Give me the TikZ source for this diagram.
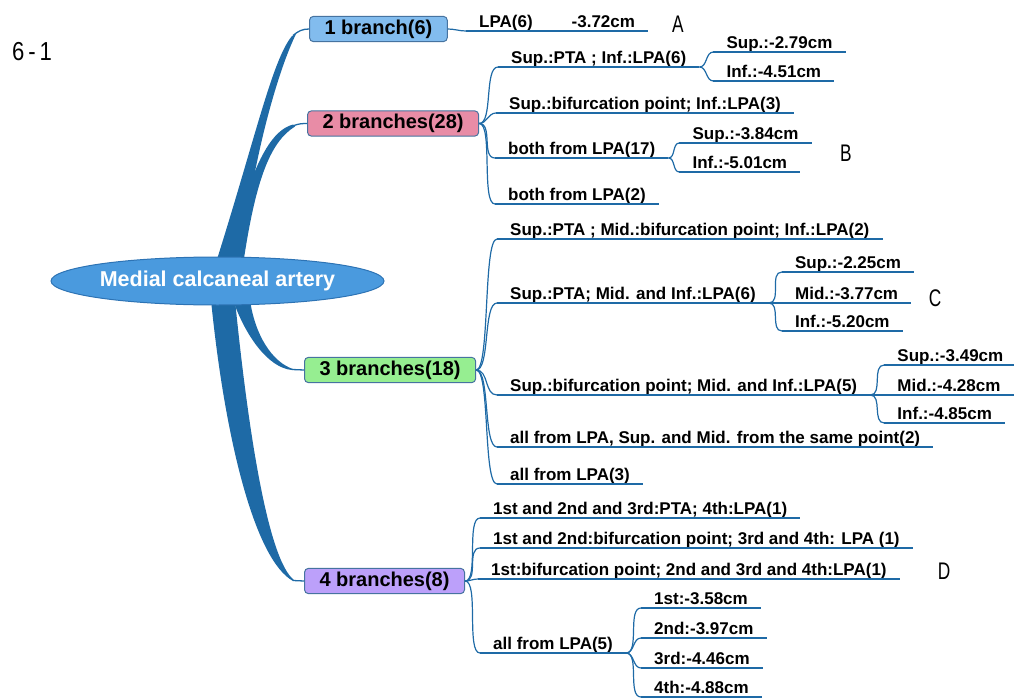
\documentclass[tikz,border=0pt]{standalone}
\usepackage{fontspec}
\setmainfont{Liberation Sans}
\newfontfamily\markfont[FakeStretch=0.72]{Liberation Sans}
\newfontfamily\figfont[FakeStretch=0.85]{Liberation Sans}
\usetikzlibrary{positioning,shapes.geometric}

\definecolor{linkblue}{RGB}{30,106,166}
\definecolor{hubfill}{RGB}{74,154,222}
\definecolor{hubline}{RGB}{45,115,180}
\definecolor{onefill}{RGB}{130,188,238}
\definecolor{twofill}{RGB}{232,140,166}
\definecolor{threefill}{RGB}{150,238,145}
\definecolor{fourfill}{RGB}{188,160,250}
\definecolor{boxline}{RGB}{70,115,160}

\tikzset{
	hub/.style={ellipse, fill=hubfill, draw=hubline, line width=1pt, minimum width=285pt, minimum height=48pt, inner sep=0pt, text=white, font=\fontsize{21.5}{24}\selectfont\bfseries},
	branchbox/.style={rectangle, rounded corners=4pt, draw=boxline, line width=1pt, minimum height=24pt, inner xsep=15pt, anchor=west, font=\fontsize{20}{22}\selectfont\bfseries},
	leaf/.style={anchor=south west, inner xsep=13pt, inner ysep=3pt, text depth=0pt, font=\fontsize{17}{19}\selectfont\bfseries,
		append after command={(\tikzlastnode.south west) edge[draw=linkblue, line width=1.4pt] (\tikzlastnode.south east)}},
	twig/.style={draw=linkblue, line width=1.2pt, out=0, in=180, max distance=14pt},
	trunk/.style={fill=linkblue},
	stem/.style={draw=linkblue, line width=1.3pt},
	letterlbl/.style={inner sep=0pt, font={\markfont\fontsize{24}{26}\selectfont}}
}

\begin{document}
\begin{tikzpicture}[x=1pt, y=-1pt]
	\useasboundingbox (0,0) rectangle (1014,698);

	% first level
	\node [branchbox, fill=onefill]   (n1) at (309,29)    {1 branch(6)};
	\node [branchbox, fill=twofill]   (n2) at (307,123.5) {2 branches(28)};
	\node [branchbox, fill=threefill] (n3) at (304,370)   {3 branches(18)};
	\node [branchbox, fill=fourfill]  (n4) at (304,581)   {4 branches(8)};

	% tapered trunks
	\fill [trunk] (213,272) .. controls (255,140) and (272,60) .. (292,36)
		-- (296,34) .. controls (276,75) and (250,170) .. (240,272) -- cycle;
	\fill [trunk] (246,195) .. controls (258,160) and (272,130) .. (293,124.5)
		-- (295,126.5) .. controls (270,142) and (255,180) .. (242,272) -- (236,272) -- cycle;
	\fill [trunk] (233,300) .. controls (245,335) and (268,368) .. (292,370)
		-- (293,369) .. controls (272,362) and (255,335) .. (250,300) -- cycle;
	\fill [trunk] (211,300) .. controls (225,440) and (255,560) .. (293,581)
		-- (294,580) .. controls (268,560) and (248,430) .. (235,300) -- cycle;
	\coordinate (t1) at (293,35.5);
	\coordinate (t2) at (294,125.5);
	\coordinate (t3) at (292,369.5);
	\coordinate (t4) at (293,580.5);
	\draw [stem] (t1) to [out=40, in=180] (n1.west);
	\draw [stem] (t2) to [out=20, in=180] (n2.west);
	\draw [stem] (t3) -- (n3.west);
	\draw [stem] (t4) -- (n4.west);

	\node [hub] (mca) at (217.5,281) {Medial calcaneal artery};

	% 1 branch
	\node [leaf] (l1) at (466,31) {LPA(6)\hspace{39pt}-3.72cm};
	\draw [twig] (n1.east) to (l1.south west);

	% 2 branches
	\node [leaf] (b2a) at (498,67) {Sup.:PTA ; Inf.:LPA(6)};
	\node [leaf] (b2a1) at ([shift={(14,-15)}]b2a.south east) {Sup.:-2.79cm};
	\node [leaf] (b2a2) at ([shift={(14,14)}]b2a.south east) {Inf.:-4.51cm};
	\node [leaf] (b2b) at (496,113) {Sup.:bifurcation point; Inf.:LPA(3)};
	\node [leaf] (b2c) at (495,158) {both from LPA(17)};
	\node [leaf] (b2c1) at ([shift={(11,-15)}]b2c.south east) {Sup.:-3.84cm};
	\node [leaf] (b2c2) at ([shift={(11,14)}]b2c.south east) {Inf.:-5.01cm};
	\node [leaf] (b2d) at (495,204) {both from LPA(2)};
	\draw [twig] (n2.east) to (b2a.south west);
	\draw [twig] (n2.east) to (b2b.south west);
	\draw [twig] (n2.east) to (b2c.south west);
	\draw [twig] (n2.east) to (b2d.south west);
	\draw [twig] (b2a.south east) to (b2a1.south west);
	\draw [twig] (b2a.south east) to (b2a2.south west);
	\draw [twig] (b2c.south east) to (b2c1.south west);
	\draw [twig] (b2c.south east) to (b2c2.south west);

	% 3 branches
	\node [leaf] (b3a) at (497,239) {Sup.:PTA ; Mid.:bifurcation point; Inf.:LPA(2)};
	\node [leaf] (b3b) at (497,303) {Sup.:PTA; Mid. and Inf.:LPA(6)};
	\node [leaf] (b3b1) at ([shift={(13,-31)}]b3b.south east) {Sup.:-2.25cm};
	\node [leaf] (b3b2) at ([shift={(13,0)}]b3b.south east) {Mid.:-3.77cm};
	\node [leaf] (b3b3) at ([shift={(13,28)}]b3b.south east) {Inf.:-5.20cm};
	\node [leaf] (b3c) at (497,395) {Sup.:bifurcation point; Mid. and Inf.:LPA(5)};
	\node [leaf] (b3c1) at ([shift={(14,-30)}]b3c.south east) {Sup.:-3.49cm};
	\node [leaf] (b3c2) at ([shift={(14,0)}]b3c.south east) {Mid.:-4.28cm};
	\node [leaf] (b3c3) at ([shift={(14,28)}]b3c.south east) {Inf.:-4.85cm};
	\node [leaf] (b3d) at (497,447) {all from LPA, Sup. and Mid. from the same point(2)};
	\node [leaf] (b3e) at (497,484) {all from LPA(3)};
	\draw [twig] (n3.east) to (b3a.south west);
	\draw [twig] (n3.east) to (b3b.south west);
	\draw [twig] (n3.east) to (b3c.south west);
	\draw [twig] (n3.east) to (b3d.south west);
	\draw [twig] (n3.east) to (b3e.south west);
	\draw [twig] (b3b.south east) to (b3b1.south west);
	\draw [twig] (b3b.south east) to (b3b2.south west);
	\draw [twig] (b3b.south east) to (b3b3.south west);
	\draw [twig] (b3c.south east) to (b3c1.south west);
	\draw [twig] (b3c.south east) to (b3c2.south west);
	\draw [twig] (b3c.south east) to (b3c3.south west);

	% 4 branches
	\node [leaf] (b4a) at (480,518) {1st and 2nd and 3rd:PTA; 4th:LPA(1)};
	\node [leaf] (b4b) at (480,548) {1st and 2nd:bifurcation point; 3rd and 4th: LPA (1)};
	\node [leaf] (b4c) at (478,579) {1st:bifurcation point; 2nd and 3rd and 4th:LPA(1)};
	\node [leaf] (b4d) at (480,653) {all from LPA(5)};
	\node [leaf] (b4d1) at ([shift={(15,-45)}]b4d.south east) {1st:-3.58cm};
	\node [leaf] (b4d2) at ([shift={(15,-15)}]b4d.south east) {2nd:-3.97cm};
	\node [leaf] (b4d3) at ([shift={(15,15)}]b4d.south east) {3rd:-4.46cm};
	\node [leaf] (b4d4) at ([shift={(15,44)}]b4d.south east) {4th:-4.88cm};
	\draw [twig] (n4.east) to (b4a.south west);
	\draw [twig] (n4.east) to (b4b.south west);
	\draw [twig] (n4.east) to (b4c.south west);
	\draw [twig] (n4.east) to (b4d.south west);
	\draw [twig] (b4d.south east) to (b4d1.south west);
	\draw [twig] (b4d.south east) to (b4d2.south west);
	\draw [twig] (b4d.south east) to (b4d3.south west);
	\draw [twig] (b4d.south east) to (b4d4.south west);

	% panel letters
	\node [letterlbl, font={\figfont\fontsize{26}{28}\selectfont}] (fig) at (32,51.5) {6\hspace{4pt}-\hspace{4pt}1};
	\node [letterlbl] (A)   at (678,24) {A};
	\node [letterlbl] (B)   at (846,153) {B};
	\node [letterlbl] (C)   at (935,298) {C};
	\node [letterlbl] (D)   at (944,571) {D};
\end{tikzpicture}
\end{document}
